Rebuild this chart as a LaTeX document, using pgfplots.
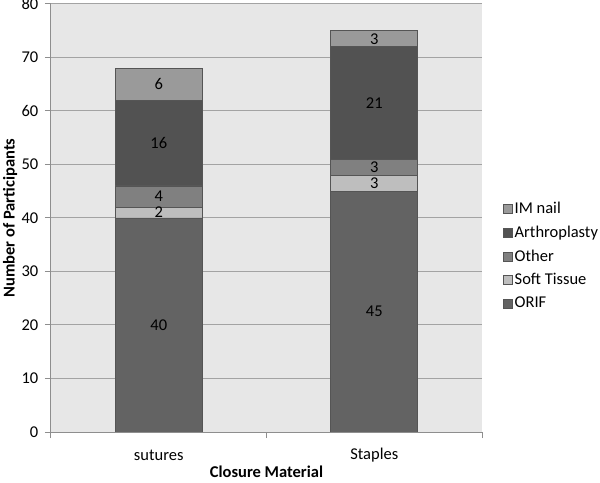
\documentclass[border=0pt]{standalone}
\usepackage{fontspec}
\setmainfont{Carlito}
\usepackage{pgfplots}
\pgfplotsset{compat=1.18}
\definecolor{orif}{HTML}{636363}
\definecolor{soft}{HTML}{BEBEBE}
\definecolor{other}{HTML}{808080}
\definecolor{arthro}{HTML}{525252}
\definecolor{imnail}{HTML}{9A9A9A}
\definecolor{bggray}{HTML}{E7E7E7}
\definecolor{gridgray}{HTML}{A3A3A3}
\definecolor{axisgray}{HTML}{8E8E8E}
\definecolor{bordergray}{HTML}{555555}
\newcommand{\fs}{\fontsize{16.5bp}{19bp}\selectfont}
\begin{document}
\fs
\begin{tikzpicture}
\pgfplotsset{
  commonaxis/.style={
    width=431bp, height=428bp, scale only axis,
    xmin=-0.5, xmax=1.5, ymin=0, ymax=80,
    at={(0,0)}, anchor=south west,
  },
}
\begin{axis}[commonaxis,
  ybar stacked, bar width=87bp,
  axis background/.style={fill=bggray},
  axis x line=bottom, axis y line=left,
  axis line style={draw=axisgray, line width=1bp, -},
  tick align=outside, major tick length=6bp,
  tick style={draw=axisgray, line width=1bp},
  ytick={0,10,...,80}, ymajorgrids,
  grid style={draw=gridgray, line width=1bp},
  /pgf/number format/assume math mode=true,
  ticklabel style={font=\fs},
  yticklabel style={anchor=east, xshift=-1bp},
  xtick={-0.5,0.5,1.5}, xticklabels={},
  extra x ticks={0,1}, extra x tick labels={sutures,Staples},
  extra x tick style={major tick length=0pt, xticklabel style={anchor=center, yshift=-23bp}},
  xlabel={\bfseries Closure Material},
  ylabel={\bfseries Number of Participants},
  label style={font=\fs},
  every axis x label/.style={at={(axis description cs:0.5,0)}, yshift=-40bp, anchor=center},
  every axis y label/.style={at={(axis description cs:0,0.5)}, xshift=-41bp, rotate=90, anchor=center},
  legend style={at={(1,0.411)}, xshift=18bp, anchor=west, draw=none, fill=none,
    font=\fs, row sep=5.8bp, cells={anchor=west}},
  reverse legend,
  legend image code/.code={\draw[#1, line width=0.5bp] (0bp,-4.5bp) rectangle (9bp,4.5bp);},
]
\addplot[fill=orif, draw=bordergray, line width=0.6bp] coordinates {(0,40) (1,45)};
\addplot[fill=soft, draw=bordergray, line width=0.6bp] coordinates {(0,2) (1,3)};
\addplot[fill=other, draw=bordergray, line width=0.6bp] coordinates {(0,4) (1,3)};
\addplot[fill=arthro, draw=bordergray, line width=0.6bp] coordinates {(0,16) (1,21)};
\addplot[fill=imnail, draw=bordergray, line width=0.6bp] coordinates {(0,6) (1,3)};
\legend{ORIF,Soft Tissue,Other,Arthroplasty,IM nail}
\end{axis}
\begin{axis}[commonaxis, hide axis]
\addplot[draw=none, mark=none, nodes near coords, point meta=explicit symbolic,
  every node near coord/.style={anchor=center, inner sep=0pt, text=black, font=\fs}]
  table[meta=lab] {
x y lab
0 20 40
0 41 2
0 44 4
0 54 16
0 65 6
1 22.5 45
1 46.5 3
1 49.5 3
1 61.5 21
1 73.5 3
};
\end{axis}
\pgfresetboundingbox
\path (-51bp,-51bp) rectangle (549bp,432bp);
\end{tikzpicture}
\end{document}
